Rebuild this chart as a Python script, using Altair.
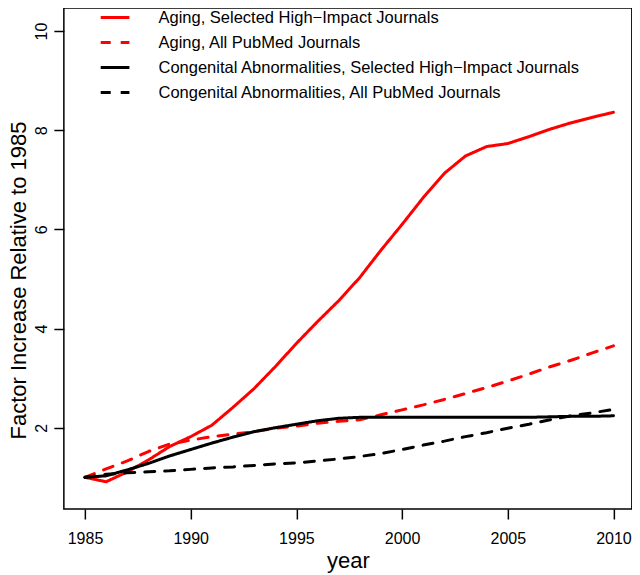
import altair as alt
import pandas as pd

years = list(range(1985, 2011))

series_names = [
    "Aging, Selected High\u2212Impact Journals",
    "Aging, All PubMed Journals",
    "Congenital Abnormalities, Selected High\u2212Impact Journals",
    "Congenital Abnormalities, All PubMed Journals",
]

aging_selected = [1.00, 0.91, 1.11, 1.35, 1.62, 1.82, 2.05, 2.41, 2.79, 3.23,
                  3.70, 4.14, 4.56, 5.03, 5.58, 6.10, 6.64, 7.13, 7.48, 7.67,
                  7.73, 7.87, 8.02, 8.15, 8.26, 8.36]
aging_all = [1.00, 1.17, 1.33, 1.52, 1.67, 1.75, 1.82, 1.87, 1.92, 1.99,
             2.03, 2.09, 2.13, 2.16, 2.26, 2.36, 2.46, 2.57, 2.69, 2.81,
             2.94, 3.08, 3.23, 3.36, 3.51, 3.65]
congenital_selected = [1.00, 1.03, 1.15, 1.28, 1.43, 1.56, 1.69, 1.81, 1.92, 2.00,
                       2.07, 2.14, 2.19, 2.21, 2.21, 2.21, 2.21, 2.21, 2.21, 2.21,
                       2.21, 2.21, 2.22, 2.23, 2.23, 2.24]
congenital_all = [1.00, 1.06, 1.09, 1.11, 1.13, 1.16, 1.19, 1.21, 1.24, 1.27,
                  1.29, 1.33, 1.37, 1.42, 1.48, 1.56, 1.65, 1.73, 1.82, 1.90,
                  1.99, 2.07, 2.16, 2.24, 2.30, 2.37]

series_values = [aging_selected, aging_all, congenital_selected, congenital_all]
series_colors = ["#FF0000", "#FF0000", "#000000", "#000000"]
series_dashes = [[1, 0], [10, 10], [1, 0], [10, 10]]

x_ticks = [1985, 1990, 1995, 2000, 2005, 2010]
y_ticks = [2, 4, 6, 8, 10]

rows = []
for name, vals in zip(series_names, series_values):
    for yr, v in zip(years, vals):
        rows.append({"year": yr, "value": v, "series": name})
df = pd.DataFrame(rows)

FONT = "Liberation Sans"
W, H = 568, 501

legend_opts = dict(title=None, orient="none", legendX=35.2, legendY=-6.5,
                   symbolType="stroke", symbolSize=824,
                   symbolStrokeWidth=3, labelFontSize=16.5,
                   labelFont=FONT, labelColor="black",
                   labelOffset=27.4, rowPadding=-11, padding=0,
                   labelLimit=600)

lines = alt.Chart(df).mark_line(strokeWidth=3, strokeCap="round", strokeJoin="round").encode(
    x=alt.X("year:Q",
            scale=alt.Scale(domain=[1984, 2010.87], nice=False, zero=False),
            axis=alt.Axis(values=x_ticks, format="d", title="year", grid=False,
                          domain=False, ticks=True, tickSize=10, tickColor="#000000",
                          tickWidth=1.5, tickOpacity=1,
                          labelFontSize=16, labelColor="black", labelFont=FONT,
                          labelPadding=11, labelFlush=False, labelOverlap=False,
                          titleFontSize=22, titleFont=FONT, titleFontWeight="normal",
                          titleColor="black", titlePadding=4)),
    y=alt.Y("value:Q",
            scale=alt.Scale(domain=[0.361, 10.464], nice=False, zero=False),
            axis=alt.Axis(values=y_ticks, format="d",
                          title="Factor Increase Relative to 1985", grid=False,
                          domain=False, ticks=True, tickSize=10, tickColor="#000000",
                          tickWidth=1.5, tickOpacity=1,
                          labelFontSize=16, labelColor="black", labelFont=FONT,
                          labelAngle=-90, labelAlign="center", labelBaseline="alphabetic",
                          labelPadding=7, labelFlush=False, labelOverlap=False,
                          titleFontSize=22, titleFont=FONT, titleFontWeight="normal",
                          titleColor="black", titleAngle=-90, titleAlign="center",
                          titleBaseline="alphabetic", titleX=-38.3, titleY=272)),
    color=alt.Color("series:N",
                    scale=alt.Scale(domain=series_names, range=series_colors),
                    legend=alt.Legend(**legend_opts)),
    strokeDash=alt.StrokeDash("series:N",
                              scale=alt.Scale(domain=series_names, range=series_dashes),
                              legend=alt.Legend(**legend_opts)),
    order=alt.Order("year:Q"),
)

frame = alt.Chart(pd.DataFrame({"k": [0]})).mark_rect(
    fillOpacity=0, stroke="#000000", strokeWidth=1.5, strokeOpacity=1
).encode(
    x=alt.value(0), x2=alt.value(W), y=alt.value(0), y2=alt.value(H)
)

chart = alt.layer(lines, frame).properties(
    width=W,
    height=H,
    autosize=alt.AutoSizeParams(type="none"),
    padding={"left": 55.86, "top": 0, "right": 0.14, "bottom": 66},
).configure(
    background="white"
).configure_view(
    strokeWidth=0
)

chart.save("out.html", embed_options={"renderer": "svg", "actions": False})
